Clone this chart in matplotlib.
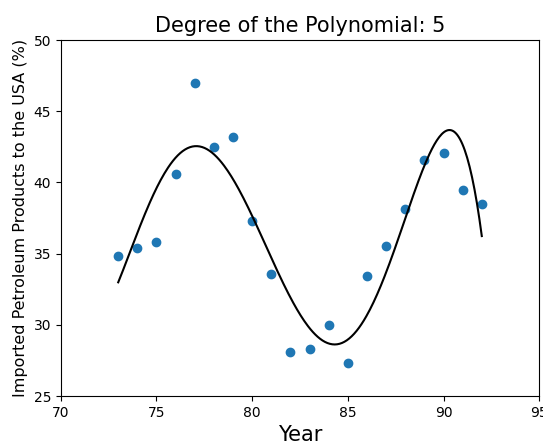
import numpy as np
import matplotlib
matplotlib.use("Agg")
import matplotlib.pyplot as plt

years = [73, 74, 75, 76, 77, 78, 79, 80, 81, 82, 83, 84, 85, 86, 87, 88, 89, 90, 91, 92]
imports_pct = [34.8, 35.4, 35.8, 40.6, 47.0, 42.5, 43.2, 37.3, 33.6, 28.1, 28.3, 30.0, 27.3, 33.4,
               35.5, 38.1, 41.6, 42.1, 39.5, 38.5]
degree = 5

x = np.array(years, dtype=float)
y = np.array(imports_pct, dtype=float)
coef = np.polyfit(x, y, degree)
xs = np.linspace(x.min(), x.max(), 300)
ys = np.polyval(coef, xs)

fig = plt.figure(figsize=(5.43, 4.42), dpi=100)
ax = fig.add_axes([0.112, 0.104, 0.881, 0.8055])
ax.scatter(x, y, color="#1f77b4", s=36, zorder=2)
ax.plot(xs, ys, color="black", lw=1.5, zorder=3)
ax.set_xlim(70, 95)
ax.set_ylim(25, 50)
ax.set_title("Degree of the Polynomial: %d" % degree, fontsize=15)
ax.set_xlabel("Year", fontsize=15)
ax.set_ylabel("Imported Petroleum Products to the USA (%)", fontsize=11.5)
fig.savefig("out.png", dpi=100)
